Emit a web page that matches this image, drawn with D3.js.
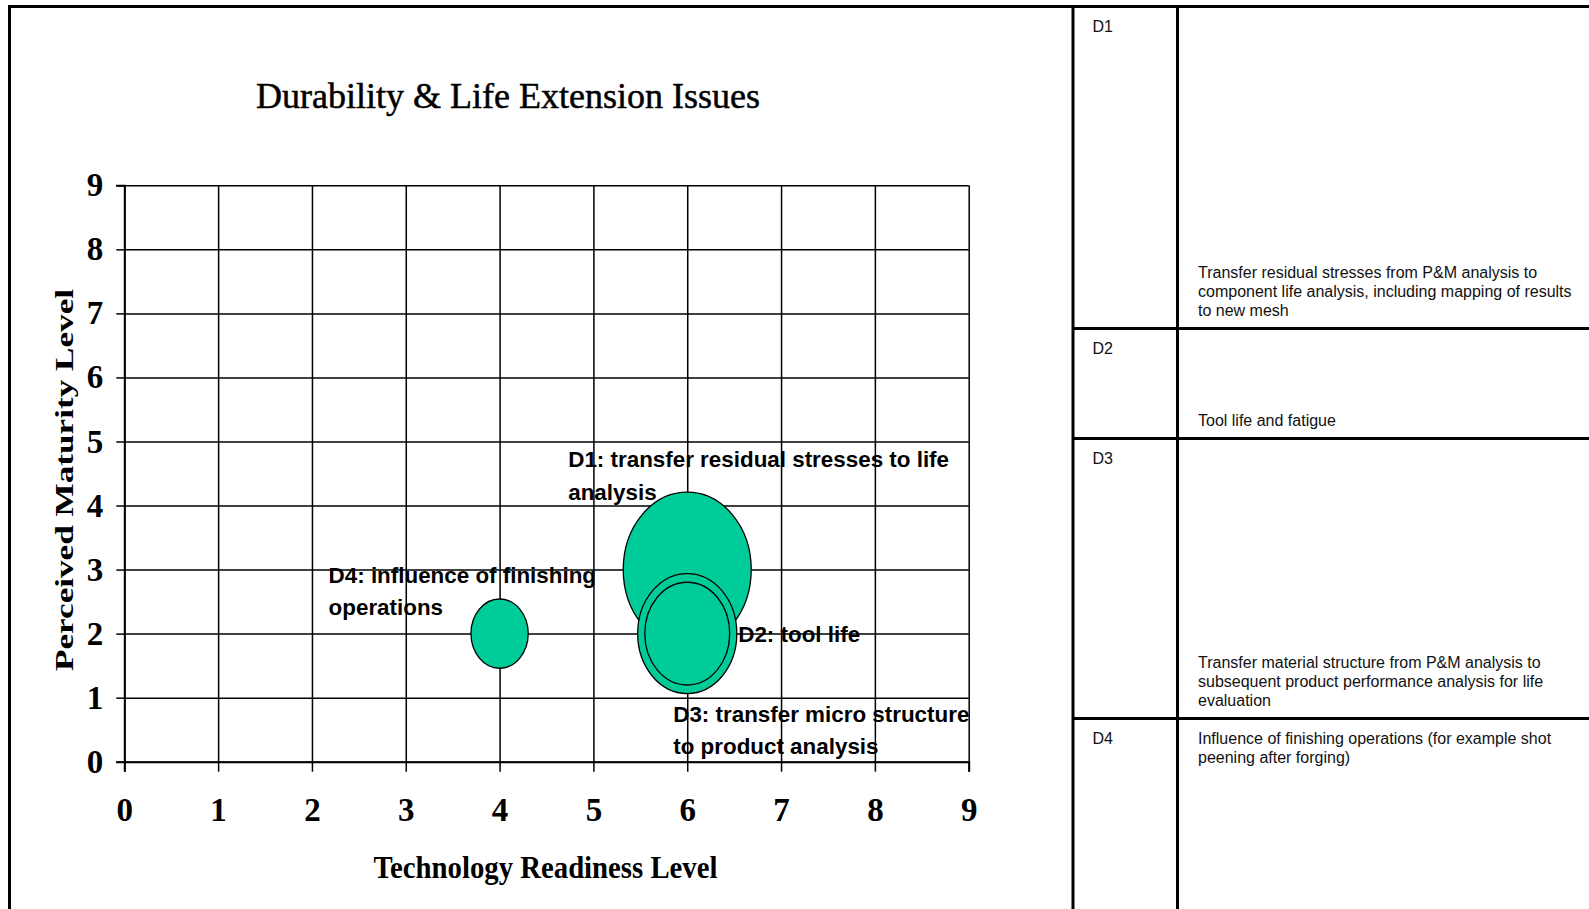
<!DOCTYPE html>
<html>
<head>
<meta charset="utf-8">
<script src="https://cdn.jsdelivr.net/npm/d3@7"></script>
<style>
  html, body { margin: 0; padding: 0; background: #fff; overflow: hidden; }
  svg { display: block; }
</style>
</head>
<body>
<svg id="page" width="1589" height="909"></svg>
<script>
// ---- data ----
const issueIds = ["D1", "D2", "D3", "D4"];
const readinessLevel = [6, 6, 6, 4];      // x: Technology Readiness Level
const maturityLevel = [3, 2, 2, 2];       // y: Perceived Maturity Level
const bubbleSize = [5, 2.2, 3, 1];        // bubble area value
const bubbleLabels = [
  ["D1: transfer residual stresses to life", "analysis"],
  ["D2: tool life"],
  ["D3: transfer micro structure", "to product analysis"],
  ["D4: influence of finishing", "operations"]
];
const xTickValues = [0, 1, 2, 3, 4, 5, 6, 7, 8, 9];
const yTickValues = [0, 1, 2, 3, 4, 5, 6, 7, 8, 9];
const descriptions = [
  ["Transfer residual stresses from P&M analysis to",
   "component life analysis, including mapping of results",
   "to new mesh"],
  ["Tool life and fatigue"],
  ["Transfer material structure from P&M analysis to",
   "subsequent product performance analysis for life",
   "evaluation"],
  ["Influence of finishing operations (for example shot",
   "peening after forging)"]
];
const chartTitle = "Durability & Life Extension Issues";
const xTitle = "Technology Readiness Level";
const yTitle = "Perceived Maturity Level";

// ---- layout ----
const W = 1589, H = 909;
const plot = { left: 124.3, right: 968.7, top: 185.3, bottom: 761.7 };
const bubbleAspect = 1.21;            // vertical stretch of the chart picture
const labelOffsets = [                // label anchor relative to bubble centre
  { dx: -119, dy: -102.5 },
  { dx: 51, dy: 8.5 },
  { dx: -14, dy: 88 },
  { dx: -171, dy: -51 }
];
const labelLineHeight = 32.5;
const rowEdges = [6.5, 328.5, 438.5, 718.5, 909];
const descAlign = ["bottom", "bottom", "bottom", "top"];
const table = { left: 1073, divider: 1177.5, idX: 1092.5, descX: 1198 };

const svg = d3.select("#page");
svg.append("rect").attr("width", W).attr("height", H).attr("fill", "#fff");

const x = d3.scaleLinear().domain([0, 9]).range([plot.left, plot.right]);
const y = d3.scaleLinear().domain([0, 9]).range([plot.bottom, plot.top]);
const r = d3.scaleSqrt().domain([0, 5]).range([0, 64]);

const serif = "'Liberation Serif', 'Times New Roman', serif";
const sans = "'Liberation Sans', Arial, sans-serif";

// ---- title ----
svg.append("text")
  .attr("x", 508).attr("y", 108)
  .attr("text-anchor", "middle")
  .attr("font-family", serif).attr("font-size", 36)
  .attr("fill", "#000").attr("stroke", "#000").attr("stroke-width", 0.5)
  .attr("textLength", 504).attr("lengthAdjust", "spacingAndGlyphs")
  .text(chartTitle);

// ---- grid ----
const plotW = plot.right - plot.left, plotH = plot.bottom - plot.top;
const gridH = svg.append("g").attr("transform", `translate(${plot.left},0)`)
  .call(d3.axisRight(y).tickValues(yTickValues).tickSize(plotW).tickFormat(""));
const gridV = svg.append("g").attr("transform", `translate(0,${plot.top})`)
  .call(d3.axisBottom(x).tickValues(xTickValues).tickSize(plotH).tickFormat(""));
[gridH, gridV].forEach(g => {
  g.select(".domain").remove();
  g.selectAll("line").attr("stroke", "#000").attr("stroke-width", 1.5);
});

// ---- axes ----
const xAxis = svg.append("g").attr("transform", `translate(0,${plot.bottom})`)
  .call(d3.axisBottom(x).tickValues(xTickValues).tickSize(10).tickPadding(26).tickFormat(d3.format("d")));
const yAxis = svg.append("g").attr("transform", `translate(${plot.left},0)`)
  .call(d3.axisLeft(y).tickValues(yTickValues).tickSize(8).tickPadding(13).tickFormat(d3.format("d")));
[xAxis, yAxis].forEach(g => {
  g.select(".domain").attr("stroke", "#000").attr("stroke-width", 2);
  g.selectAll(".tick line").attr("stroke", "#000").attr("stroke-width", 1.5);
  g.selectAll(".tick text")
    .attr("font-family", serif).attr("font-size", 33).attr("font-weight", "bold")
    .attr("fill", "#000");
});

svg.append("text")
  .attr("x", (plot.left + plot.right) / 2 - 1).attr("y", 878)
  .attr("text-anchor", "middle")
  .attr("font-family", serif).attr("font-size", 31).attr("font-weight", "bold")
  .attr("textLength", 344).attr("lengthAdjust", "spacingAndGlyphs")
  .text(xTitle);

svg.append("text")
  .attr("transform", "translate(72.5,480) rotate(-90)")
  .attr("text-anchor", "middle")
  .attr("font-family", serif).attr("font-size", 25).attr("font-weight", "bold")
  .attr("textLength", 382).attr("lengthAdjust", "spacingAndGlyphs")
  .text(yTitle);

// ---- bubbles (largest drawn first) ----
const points = issueIds.map((id, i) => ({
  id, tx: readinessLevel[i], my: maturityLevel[i], size: bubbleSize[i],
  label: bubbleLabels[i], off: labelOffsets[i]
}));
const drawOrder = points.slice().sort((a, b) => b.size - a.size);

svg.append("g").selectAll("ellipse").data(drawOrder).join("ellipse")
  .attr("cx", d => x(d.tx)).attr("cy", d => y(d.my))
  .attr("rx", d => r(d.size)).attr("ry", d => r(d.size) * bubbleAspect)
  .attr("fill", "#00CC99").attr("stroke", "#000").attr("stroke-width", 1.3);

const labels = svg.append("g").selectAll("text").data(points).join("text")
  .attr("font-family", sans).attr("font-size", 22.4).attr("font-weight", "bold")
  .attr("fill", "#000");
labels.selectAll("tspan").data(d => d.label.map((t, k) => ({ t, k, d }))).join("tspan")
  .attr("x", o => x(o.d.tx) + o.d.off.dx)
  .attr("y", o => y(o.d.my) + o.d.off.dy + o.k * labelLineHeight)
  .text(o => o.t);

// ---- frame and table ----
const lines = svg.append("g").attr("stroke", "#000").attr("stroke-width", 3).attr("fill", "none");
lines.append("path").attr("d", `M9.5,${H} V6.5 H${W}`);
lines.append("line").attr("x1", table.left).attr("x2", table.left).attr("y1", 6.5).attr("y2", H);
lines.append("line").attr("x1", table.divider).attr("x2", table.divider).attr("y1", 6.5).attr("y2", H);
lines.selectAll("line.row").data(rowEdges.slice(1, -1)).join("line").attr("class", "row")
  .attr("x1", table.left).attr("x2", W).attr("y1", d => d).attr("y2", d => d);

const rows = svg.append("g").selectAll("g").data(issueIds).join("g");
rows.append("text")
  .attr("x", table.idX).attr("y", (d, i) => rowEdges[i] + 25.5)
  .attr("font-family", sans).attr("font-size", 16).attr("fill", "#111")
  .text(d => d);
rows.each(function (d, i) {
  const desc = descriptions[i];
  const top = rowEdges[i], bottom = rowEdges[i + 1];
  const first = descAlign[i] === "top" ? top + 25.5 : bottom - 12.5 - (desc.length - 1) * 19;
  d3.select(this).append("text")
    .attr("font-family", sans).attr("font-size", 16).attr("fill", "#111")
    .selectAll("tspan").data(desc).join("tspan")
    .attr("x", table.descX).attr("y", (t, k) => first + k * 19)
    .text(t => t);
});
</script>
</body>
</html>
